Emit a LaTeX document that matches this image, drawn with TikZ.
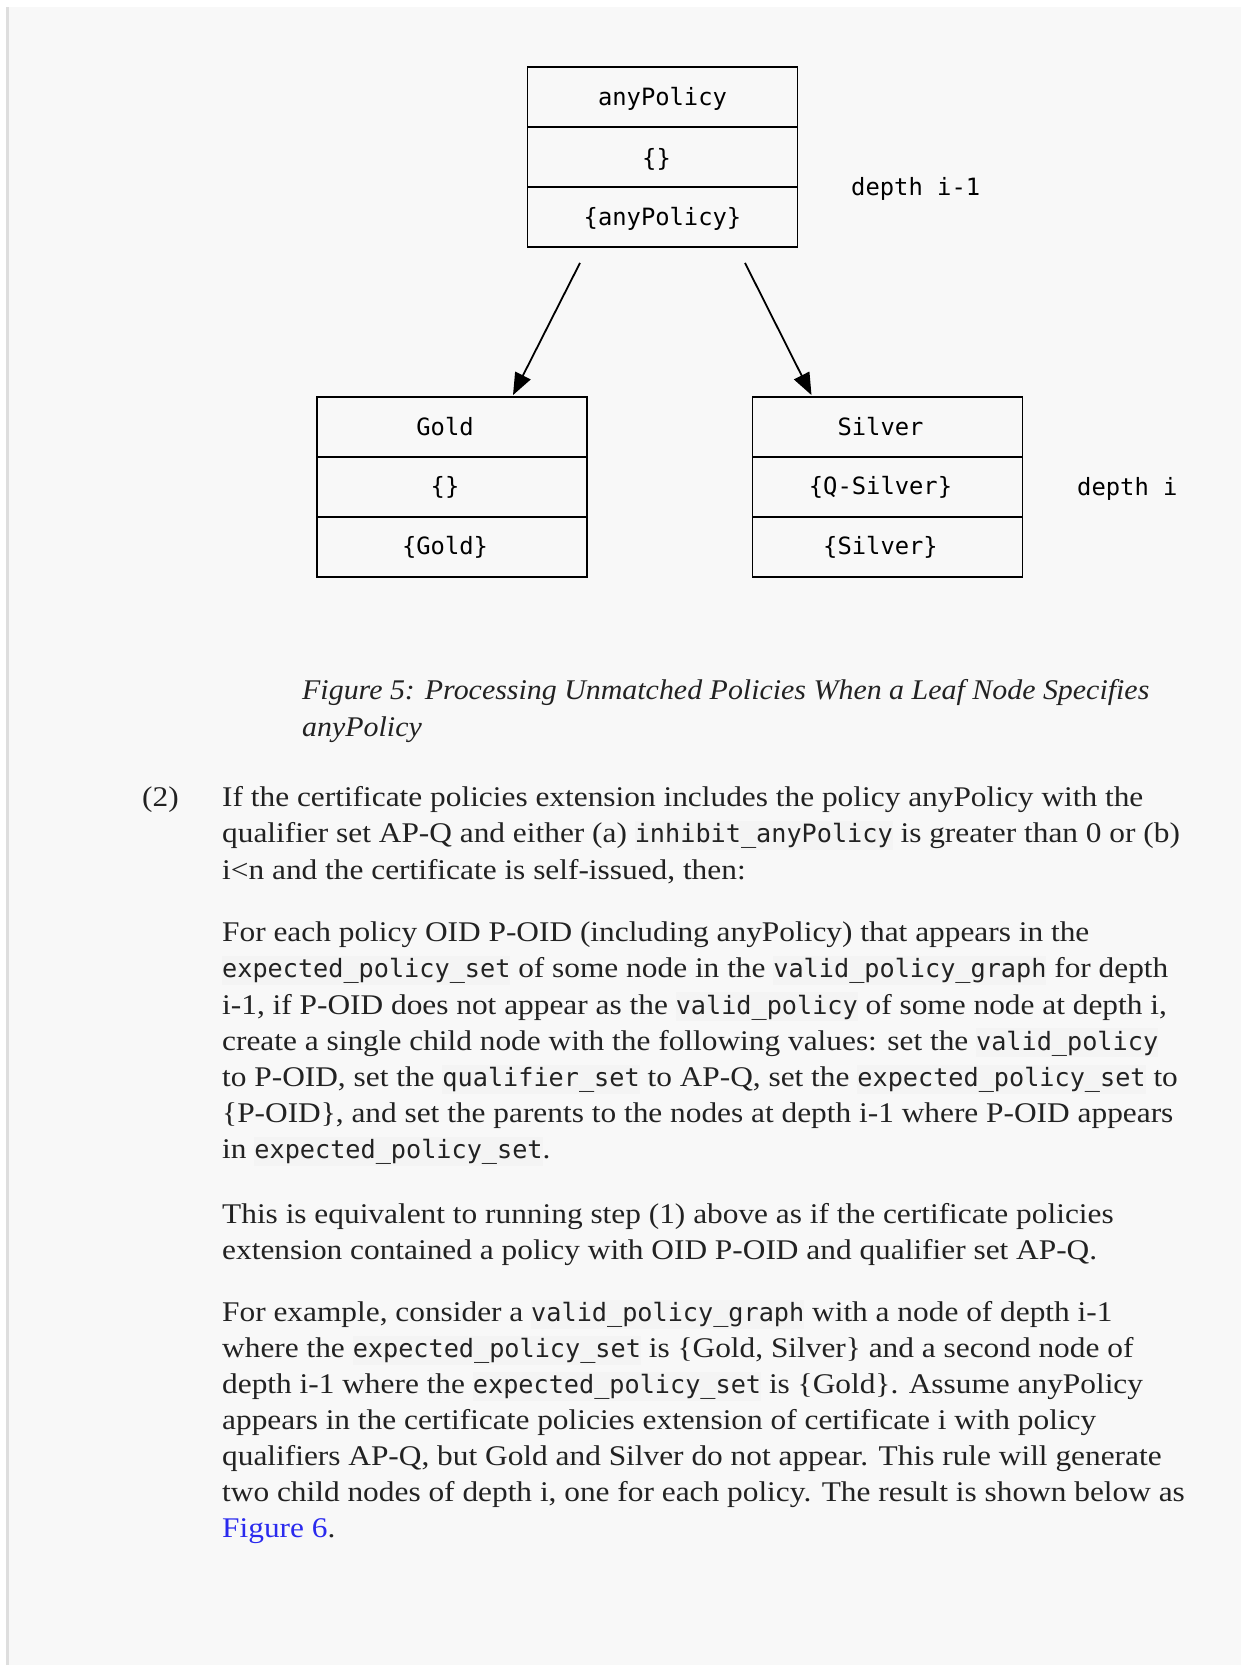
\documentclass[tikz,border=0pt]{standalone}
\usepackage{fontspec}
\setmainfont[FakeStretch=1.1]{Liberation Serif}
\newfontfamily\capfont[FakeStretch=1.05]{Liberation Serif}
\newfontfamily\codefont{DejaVu Sans Mono}
\newfontfamily\diagfont{DejaVu Sans Mono}
\usetikzlibrary{arrows.meta,calc}
\definecolor{pagebg}{HTML}{F8F8F8}
\definecolor{codebg}{HTML}{F4F4F4}
\definecolor{rulegray}{HTML}{DEDEDE}
\definecolor{bodytext}{HTML}{222222}
\definecolor{linkblue}{HTML}{2A2AEE}
\newcommand\cd[1]{{\setlength{\fboxsep}{0pt}\colorbox{codebg}{\codefont\fontsize{25.2}{30}\selectfont\rule[-7pt]{0pt}{29pt}#1}}}
\tikzset{
  cell/.style={draw=black, line width=1.8pt, minimum width=270pt, minimum height=60pt,
    inner sep=0pt, font=\diagfont\fontsize{23.8}{28}\selectfont, text=black},
  celltxt/.style={inner sep=0pt, font=\diagfont\fontsize{23.8}{28}\selectfont, text=black},
  lbl/.style={anchor=west, inner sep=0pt, font=\diagfont\fontsize{23.8}{28}\selectfont, text=black},
  arr/.style={line width=1.8pt, -{Triangle[length=22pt,width=17pt]}},
  txt/.style={anchor=base west, inner sep=0pt, text=bodytext, font=\fontsize{28.5}{36}\selectfont},
  captxt/.style={anchor=base west, inner sep=0pt, text=bodytext, font=\capfont\itshape\fontsize{28.5}{36}\selectfont}
}
\begin{document}
\begin{tikzpicture}[x=1pt,y=-1pt]
\useasboundingbox (0,0) rectangle (1241,1665);
\fill[white] (0,0) rectangle (1241,1665);
\fill[pagebg] (6,7) rectangle (1241,1665);
\fill[rulegray] (6,7) rectangle (9,1665);

% depth i-1
\node[cell] (t1) at (662.5,97) {};
\node[cell] (t2) at (662.5,157) {};
\node[cell] (t3) at (662.5,217) {};
\node[celltxt] at ($(t1.center)+(0,2)$) {anyPolicy};
\node[celltxt] at ($(t2.center)+(-6,2)$) {\{\}};
\node[celltxt] at ($(t3.center)+(0,2)$) {\{anyPolicy\}};
\node[lbl] (d1) at (851,189) {depth i-1};

% depth i
\node[cell] (g1) at (452,427) {};
\node[cell] (g2) at (452,487) {};
\node[cell] (g3) at (452,547) {};
\node[celltxt] at ($(g1.center)+(-7,0)$) {Gold};
\node[celltxt] at ($(g2.center)+(-7,0)$) {\{\}};
\node[celltxt] at ($(g3.center)+(-7,0)$) {\{Gold\}};
\node[cell] (s1) at (887.5,427) {};
\node[cell] (s2) at (887.5,487) {};
\node[cell] (s3) at (887.5,547) {};
\node[celltxt] at ($(s1.center)+(-7,0)$) {Silver};
\node[celltxt] at ($(s2.center)+(-7,0)$) {\{Q-Silver\}};
\node[celltxt] at ($(s3.center)+(-7,0)$) {\{Silver\}};
\node[lbl] (d2) at (1077,489) {depth i};

\coordinate (a1s) at ($(t3.south)+(-82.5,15)$);
\coordinate (a1e) at ($(g1.north)+(61,-1)$);
\coordinate (a2s) at ($(t3.south)+(82.5,15)$);
\coordinate (a2e) at ($(s1.north)+(-76,-1)$);
\draw[arr] (a1s) -- (a1e);
\draw[arr] (a2s) -- (a2e);

% caption
\node[captxt] (c1) at (302,699) {Figure 5: Processing Unmatched Policies When a Leaf Node Specifies};
\node[captxt] (c2) at (302,736) {anyPolicy};

% paragraph 1
\node[txt] (n2) at (142,806) {(2)};
\node[txt] (p11) at (222,806) {If the certificate policies extension includes the policy anyPolicy with the};
\node[txt] (p12) at (222,842.6) {qualifier set AP-Q and either (a) \cd{inhibit\_anyPolicy} is greater than 0 or (b)};
\node[txt] (p13) at (222,879.2) {i<n and the certificate is self-issued, then:};

% paragraph 2
\node[txt] (p21) at (222,941.7) {For each policy OID P-OID (including anyPolicy) that appears in the};
\node[txt] (p22) at (222,977.9) {\cd{expected\_policy\_set} of some node in the \cd{valid\_policy\_graph} for depth};
\node[txt] (p23) at (222,1014.1) {i-1, if P-OID does not appear as the \cd{valid\_policy} of some node at depth i,};
\node[txt] (p24) at (222,1050.3) {create a single child node with the following values: set the \cd{valid\_policy}};
\node[txt] (p25) at (222,1086.5) {to P-OID, set the \cd{qualifier\_set} to AP-Q, set the \cd{expected\_policy\_set} to};
\node[txt] (p26) at (222,1122.7) {\{P-OID\}, and set the parents to the nodes at depth i-1 where P-OID appears};
\node[txt] (p27) at (222,1158.9) {in \cd{expected\_policy\_set}.};

% paragraph 3
\node[txt] (p31) at (222,1223.3) {This is equivalent to running step (1) above as if the certificate policies};
\node[txt] (p32) at (222,1259.5) {extension contained a policy with OID P-OID and qualifier set AP-Q.};

% paragraph 4
\node[txt] (p41) at (222,1321.7) {For example, consider a \cd{valid\_policy\_graph} with a node of depth i-1};
\node[txt] (p42) at (222,1357.7) {where the \cd{expected\_policy\_set} is \{Gold, Silver\} and a second node of};
\node[txt] (p43) at (222,1393.7) {depth i-1 where the \cd{expected\_policy\_set} is \{Gold\}. Assume anyPolicy};
\node[txt] (p44) at (222,1429.7) {appears in the certificate policies extension of certificate i with policy};
\node[txt] (p45) at (222,1465.7) {qualifiers AP-Q, but Gold and Silver do not appear. This rule will generate};
\node[txt] (p46) at (222,1501.7) {two child nodes of depth i, one for each policy. The result is shown below as};
\node[txt] (p47) at (222,1537.7) {{\color{linkblue}Figure 6}.};
\end{tikzpicture}
\end{document}
